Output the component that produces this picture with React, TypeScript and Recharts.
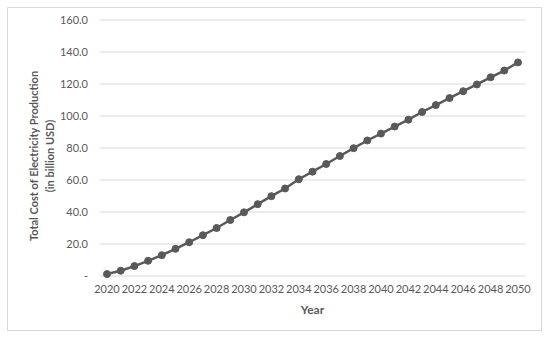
import { LineChart, Line, XAxis, YAxis, CartesianGrid, Label } from 'recharts'

const years = [
    2020, 2021, 2022, 2023, 2024, 2025, 2026, 2027, 2028, 2029, 2030,
    2031, 2032, 2033, 2034, 2035, 2036, 2037, 2038, 2039, 2040,
    2041, 2042, 2043, 2044, 2045, 2046, 2047, 2048, 2049, 2050
]

const totalCost = [
    1.2, 3.3, 6.2, 9.5, 13.0, 17.0, 21.1, 25.5, 30.0, 35.0, 39.8,
    44.9, 49.9, 54.7, 60.5, 65.2, 70.0, 75.0, 79.9, 84.7, 89.0,
    93.4, 97.7, 102.5, 106.8, 111.2, 115.5, 119.7, 124.2, 128.4, 133.5
]

const yTicks = [0, 20, 40, 60, 80, 100, 120, 140, 160]

const FONT = 'Lato, "Open Sans", sans-serif'
const GREY = '#595959'

const data = years.map((y, i) => ({ year: String(y), cost: totalCost[i] }))

// two-line rotated title, Excel style
function YTitle() {
    const cx = 25
    const cy = 148
    const lines = ['Total Cost of Electricity Production', '(in billion USD)']
    return (
        <g>
            {lines.map((t, i) => (
                <text
                    key={i}
                    x={cx + i * 16}
                    y={cy}
                    transform={`rotate(-90, ${cx + i * 16}, ${cy})`}
                    textAnchor="middle"
                    dominantBaseline="central"
                    fontFamily={FONT}
                    fontSize={11}
                    fontWeight="bold"
                    fill={GREY}
                >
                    {t}
                </text>
            ))}
        </g>
    )
}

export default function App() {
    return (
        <div
            style={{
                position: 'absolute',
                left: 7,
                top: 7,
                width: 535,
                height: 324,
                border: '1px solid #d9d9d9',
                boxSizing: 'border-box',
                background: '#fff'
            }}
        >
            <LineChart
                width={533}
                height={322}
                data={data}
                margin={{ top: 12, right: 16, left: 32, bottom: 26 }}
            >
                <CartesianGrid vertical={false} stroke="#d9d9d9" strokeWidth={1} />
                <XAxis
                    dataKey="year"
                    interval={1}
                    axisLine={false}
                    tickLine={false}
                    tickSize={0}
                    tickMargin={9}
                    height={28}
                    padding={{ left: 7, right: 7 }}
                    tick={{ fill: GREY, fontSize: 11, fontFamily: FONT }}
                >
                    <Label
                        value="Year"
                        position="bottom"
                        offset={0}
                        dy={1}
                        fill={GREY}
                        fontSize={12}
                        fontWeight="bold"
                        fontFamily={FONT}
                    />
                </XAxis>
                <YAxis
                    domain={[0, 160]}
                    ticks={yTicks}
                    width={60}
                    axisLine={false}
                    tickLine={false}
                    tickSize={0}
                    tickMargin={12}
                    tickFormatter={(v: number) => (v === 0 ? '-' : v.toFixed(1))}
                    tick={{ fill: GREY, fontSize: 11, fontFamily: FONT }}
                >
                    <Label content={<YTitle />} />
                </YAxis>
                <Line
                    type="linear"
                    dataKey="cost"
                    stroke={GREY}
                    strokeWidth={2.5}
                    dot={{ r: 3.5, fill: GREY, stroke: GREY, strokeWidth: 1 }}
                    isAnimationActive={false}
                />
            </LineChart>
        </div>
    )
}
